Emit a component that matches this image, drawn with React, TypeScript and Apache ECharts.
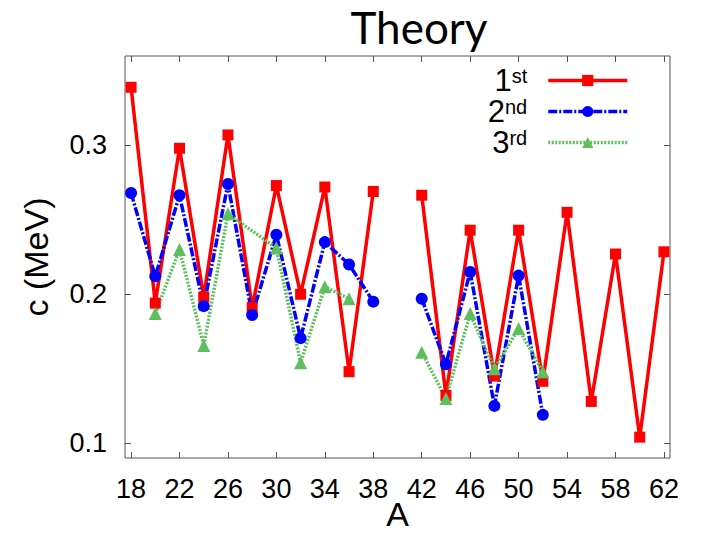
import React, { useEffect, useRef } from "react";
import * as echarts from "echarts";

const massA = [18, 20, 22, 24, 26, 28, 30, 32, 34, 36, 38, 40, 42, 44, 46, 48, 50, 52, 54, 56, 58, 60, 62];
const first = [0.339, 0.194, 0.298, 0.198, 0.307, 0.191, 0.273, 0.2, 0.272, 0.148, 0.269, null, 0.2665, 0.132, 0.243, 0.145, 0.243, 0.1415, 0.255, 0.128, 0.227, 0.104, 0.2285];

const massA2 = [18, 20, 22, 24, 26, 28, 30, 32, 34, 36, 38, 40, 42, 44, 46, 48, 50, 52];
const second = [0.268, 0.212, 0.2665, 0.192, 0.274, 0.186, 0.24, 0.1705, 0.235, 0.22, 0.195, null, 0.197, 0.153, 0.215, 0.125, 0.2125, 0.119];

const massA3 = [20, 22, 24, 26, 30, 32, 34, 36, 40, 42, 44, 46, 48, 50, 52];
const third = [0.187, 0.23, 0.1656, 0.254, 0.231, 0.154, 0.205, 0.197, null, 0.161, 0.13, 0.187, 0.15, 0.177, 0.148];

const xTicks = [18, 22, 26, 30, 34, 38, 42, 46, 50, 54, 58, 62];
const yTicks = [0.1, 0.2, 0.3];
const seriesNames = ["1st", "2nd", "3rd"];

const pairs = (xs: number[], ys: (number | null)[]) => xs.map((x, i) => [x, ys[i] === null ? "-" : ys[i]]);

const FONT = "Liberation Sans";

export default function App() {
  const ref = useRef<HTMLDivElement>(null);
  useEffect(() => {
    document.body.style.margin = "0";
    const chart = echarts.init(ref.current!, undefined, { renderer: "svg" });
    const frame = "#555";
    const xBase = {
      type: "value",
      min: 17.5,
      max: 62.5,
      splitLine: { show: false },
      axisLine: { show: false },
      axisTick: { show: true, inside: true, length: 6, customValues: xTicks, lineStyle: { color: frame } },
    };
    const yBase = {
      type: "value",
      min: 0.09,
      max: 0.36,
      splitLine: { show: false },
      axisLine: { show: false },
      axisTick: { show: true, inside: true, length: 6, customValues: yTicks, lineStyle: { color: frame } },
    };
    chart.setOption({
      animation: false,
      backgroundColor: "#fff",
      title: {
        text: "Theory",
        left: 414,
        top: 0,
        textAlign: "center",
        textStyle: { fontFamily: "Lato", fontWeight: "normal", fontSize: 44, color: "#000" },
      },
      grid: {
        left: 125,
        right: 37,
        top: 56,
        bottom: 76,
        show: true,
        borderColor: frame,
        borderWidth: 1,
        containLabel: false,
        outerBoundsMode: "none",
      },
      legend: {
        orient: "vertical",
        right: 73,
        top: 60,
        align: "right",
        itemWidth: 79,
        itemHeight: 14,
        itemGap: 0,
        selectedMode: false,
        data: seriesNames,
        lineStyle: { width: 3.5 },
        formatter: (name: string) => `{n|${name.slice(0, 1)}}{s|${name.slice(1)}}`,
        textStyle: {
          fontFamily: FONT,
          color: "#000",
          rich: {
            n: { fontFamily: FONT, fontSize: 31, lineHeight: 30, color: "#000" },
            s: { fontFamily: FONT, fontSize: 20, verticalAlign: "top", lineHeight: 14, padding: [0, 16, 0, 0], color: "#000" },
          },
        },
      },
      xAxis: [
        {
          ...xBase,
          position: "bottom",
          name: "A",
          nameLocation: "middle",
          nameGap: 38,
          nameMoveOverlap: false,
          nameTextStyle: { fontFamily: FONT, fontSize: 34, lineHeight: 36, color: "#000" },
          axisLabel: { show: true, customValues: xTicks, margin: 17, fontFamily: FONT, fontSize: 27, color: "#000" },
        },
        { ...xBase, position: "top", axisLabel: { show: false } },
      ],
      yAxis: [
        {
          ...yBase,
          position: "left",
          name: "c (MeV)",
          nameLocation: "middle",
          nameRotate: 90,
          nameGap: 72,
          nameMoveOverlap: false,
          nameTextStyle: { fontFamily: FONT, fontSize: 34, color: "#000" },
          axisLabel: { show: true, customValues: yTicks, margin: 18, fontFamily: FONT, fontSize: 27, color: "#000", formatter: (v: number) => v.toFixed(1) },
        },
        { ...yBase, position: "right", axisLabel: { show: false } },
      ],
      series: [
        {
          name: seriesNames[0],
          type: "line",
          data: pairs(massA, first),
          connectNulls: false,
          symbol: "rect",
          symbolSize: 11,
          itemStyle: { color: "#ff0000" },
          lineStyle: { color: "#ff0000", width: 3.5, type: "solid" },
        },
        {
          name: seriesNames[1],
          type: "line",
          data: pairs(massA2, second),
          connectNulls: false,
          symbol: "circle",
          symbolSize: 12,
          itemStyle: { color: "#0000ff" },
          lineStyle: { color: "#0000ff", width: 3.5, type: [9, 2, 2, 2] },
        },
        {
          name: seriesNames[2],
          type: "line",
          data: pairs(massA3, third),
          connectNulls: false,
          symbol: "triangle",
          symbolSize: 13,
          itemStyle: { color: "#5fbf5f" },
          lineStyle: { color: "#5fbf5f", width: 3.5, type: [2, 1.5] },
        },
      ],
    });
    return () => chart.dispose();
  }, []);
  return <div ref={ref} style={{ position: "fixed", left: 0, top: 0, width: 707, height: 534 }} />;
}
